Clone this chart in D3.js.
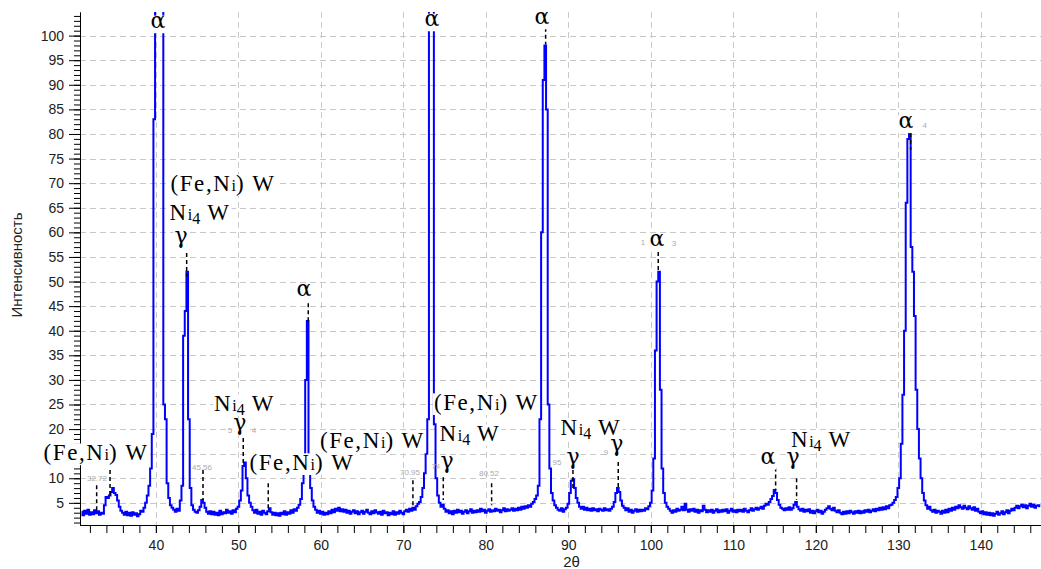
<!DOCTYPE html>
<html>
<head>
<meta charset="utf-8">
<script src="https://cdn.jsdelivr.net/npm/d3@7"></script>
<style>
  body { margin: 0; background: #fff; }
  svg { display: block; }
</style>
</head>
<body>
<svg id="chart" width="1041" height="569"></svg>
<script>
// diffractogram, 2theta from 31.0 in 0.2 deg steps
var thetaStart = 31.0, thetaStep = 0.2;
var intensity = [
  3.2,2.5,3.4,2.8,3.6,2.6,3.1,2.7,3.5,2.9,      // 31
  3.3,2.6,3.0,2.8,4.5,6.2,6.0,6.5,7.2,8.0,      // 33
  7.0,6.6,5.5,4.2,3.4,3.0,2.6,3.2,2.5,3.0,      // 35
  2.4,3.1,2.6,2.9,2.3,2.7,3.4,3.2,4.0,5.0,      // 37
  6.5,8.5,12,19,83,120,120,120,120,120,         // 39
  25,22,9,6,4.5,4.0,3.6,3.2,3.8,3.4,            // 41
  5.5,8.5,39,44,52,22,8,4.5,3.6,3.2,            // 43
  3.0,3.5,4.2,5.6,5.0,4.0,3.2,2.8,3.3,2.7,      // 45
  3.2,2.6,3.0,2.5,3.4,2.7,3.1,2.9,3.6,3.0,      // 47
  3.3,2.8,3.5,3.1,3.8,4.2,5.5,7.5,12.5,13.2,    // 49
  10,6.5,5.0,4.2,3.5,3.0,3.6,2.8,3.2,2.6,       // 51
  3.4,3.0,2.7,3.3,3.9,3.1,2.6,3.0,2.5,2.9,      // 53
  2.4,3.0,2.7,3.3,2.6,3.1,2.8,3.5,3.0,3.7,      // 55
  3.4,4.0,4.6,5.8,9,13,30,42,14,8,              // 57
  5.5,4.2,3.6,3.0,3.4,2.8,3.2,2.6,3.0,2.7,      // 59
  3.3,2.9,3.6,3.1,3.8,3.4,4.0,3.3,3.7,3.2,      // 61
  3.6,3.0,3.4,2.8,3.2,3.5,2.9,3.3,2.7,3.1,      // 63
  3.4,2.8,3.2,3.6,3.0,2.7,3.3,2.9,3.5,3.1,      // 65
  2.8,3.2,2.6,3.4,2.9,3.1,2.5,3.0,2.7,3.3,      // 67
  2.6,3.1,2.8,3.4,3.0,2.7,3.3,3.6,3.2,3.8,      // 69
  3.4,4.0,3.6,4.3,4.8,5.2,6.2,8,11,15,          // 71
  22,120,120,120,21,10,6.5,5.0,4.2,4.6,         // 73
  3.8,3.2,3.5,2.9,3.3,2.7,3.4,3.0,3.6,3.1,      // 75
  3.4,2.8,3.2,3.5,2.9,3.3,3.7,3.0,3.4,3.1,      // 77
  3.5,3.2,3.8,3.3,3.6,3.0,3.4,3.7,3.2,3.5,      // 79
  3.3,3.8,3.4,3.6,3.1,3.5,3.9,3.3,3.7,3.4,      // 81
  3.6,3.9,3.4,3.8,3.5,4.0,3.6,4.2,3.8,4.3,      // 83
  4.0,4.5,4.2,4.8,5.2,5.8,6.5,8.5,22,60,        // 85
  91,98,85,25,12,7,5.5,4.5,4.0,3.6,             // 87
  3.4,3.9,3.2,3.7,4.0,4.8,7.0,9.5,9.8,8.0,      // 89
  6.0,5.0,4.2,3.8,4.2,3.6,4.0,3.5,3.8,3.4,      // 91
  3.9,3.5,3.7,3.3,3.8,3.6,3.4,3.9,3.5,3.7,      // 93
  3.4,3.8,4.2,5.2,7.0,8.0,7.2,5.5,4.4,4.0,      // 95
  3.5,3.9,3.2,3.6,3.0,3.4,3.7,3.2,3.6,3.3,      // 97
  3.6,3.4,3.9,3.7,4.3,5.0,7.5,14,36,50,         // 99
  52,28,12,7,5.0,4.2,3.8,3.4,3.0,3.5,           // 101
  3.2,3.8,3.4,3.6,4.2,3.5,4.8,3.6,3.2,3.7,      // 103
  3.4,3.8,3.2,3.6,3.0,3.5,3.3,4.4,3.6,3.1,      // 105
  3.5,3.2,3.6,3.0,3.4,3.7,3.1,3.5,3.2,3.6,      // 107
  3.3,3.7,3.0,3.4,3.8,3.2,3.5,3.1,3.6,3.3,      // 109
  3.6,3.2,3.8,3.4,3.1,3.5,3.9,3.4,3.7,4.0,      // 111
  3.6,3.9,4.2,3.8,4.4,4.8,4.6,5.2,5.8,6.4,      // 113
  7.6,7.0,5.6,4.6,4.0,3.8,3.5,3.9,3.6,4.1,      // 115
  3.6,3.9,4.6,5.2,4.2,3.7,3.4,3.8,3.2,3.6,      // 117
  3.3,3.7,3.0,3.4,2.9,3.3,3.6,3.1,3.4,2.8,      // 119
  3.2,3.6,3.9,4.3,3.8,3.5,4.0,3.4,3.1,3.5,      // 121
  3.0,2.7,3.2,2.8,3.3,2.9,3.4,3.1,2.8,3.3,      // 123
  3.0,3.4,2.9,3.3,3.0,3.5,3.2,3.6,3.1,3.4,      // 125
  3.7,3.3,3.8,3.5,4.0,3.6,4.1,3.7,4.3,3.9,      // 127
  4.5,4.6,5.0,5.6,6.2,8,10,17,27,40,            // 129
  66,79,80,57,52,43,28,20,14,10,                // 131
  7.0,5.5,4.5,3.8,4.2,3.5,3.2,3.6,3.0,3.4,      // 133
  3.2,2.8,3.4,3.0,3.6,3.1,3.8,3.4,4.0,3.6,      // 135
  4.2,3.9,4.5,4.1,3.8,4.4,4.0,3.7,4.3,3.9,      // 137
  3.6,4.1,3.4,3.8,3.2,2.9,3.3,2.7,3.1,2.6,      // 139
  3.0,2.5,2.9,2.4,2.8,3.2,2.6,2.9,3.3,2.7,      // 141
  3.1,3.5,2.9,3.4,3.8,3.5,4.0,4.4,3.9,4.3,      // 143
  4.6,4.1,4.5,3.9,4.4,4.8,4.2,4.6,4.0,4.4,      // 145
  4.5,4.3                                       // 147
];

var xTicks = [40, 50, 60, 70, 80, 90, 100, 110, 120, 130, 140];
var yTicks = [5, 10, 15, 20, 25, 30, 35, 40, 45, 50, 55, 60, 65, 70, 75, 80, 85, 90, 95, 100];

// peak markers: [2theta, top, bottom]
var markers = [
  [32.82, 8.6, 3.5], [34.44, 11.7, 6.2], [43.73, 55.8, 51], [45.71, 11.7, 5.6],
  [50.59, 18.2, 13.1], [53.62, 9, 3.9], [58.47, 45.6, 41.8], [71.16, 9.6, 4.5],
  [74.84, 10.2, 5.6], [80.7, 9, 4.5], [87.25, 101.6, 98.2], [90.56, 11.7, 7.6],
  [96.05, 13.3, 8.2], [100.9, 56, 52.3], [115.13, 12.2, 7.6], [117.67, 10, 5.6],
  [131.49, 80.2, 76.8]
];

// phase labels: [2theta, intensity at baseline, text]
var phaseLabels = [
  [32.74, 13.7, '(Fe,Ni) W'],
  [48.13, 68.4, '(Fe,Ni) W'], [45.35, 62.5, 'Ni4 W'],
  [50.74, 23.7, 'Ni4 W'],
  [57.71, 11.7, '(Fe,Ni) W'],
  [66.25, 16.1, '(Fe,Ni) W'],
  [80.07, 23.9, '(Fe,Ni) W'], [78.07, 17.6, 'Ni4 W'],
  [92.74, 18.8, 'Ni4 W'],
  [120.68, 16.3, 'Ni4 W']
];
var greekLabels = [
  [40.25, 101.6, 'α'], [43.04, 57.9, 'γ'], [57.95, 47.1, 'α'], [50.19, 19.8, 'γ'],
  [73.47, 102, 'α'], [75.29, 12.1, 'γ'], [86.8, 102.4, 'α'], [90.56, 13.0, 'γ'],
  [95.89, 15.5, 'γ'], [100.74, 57.3, 'α'], [114.2, 12.9, 'α'], [117.23, 13.0, 'γ'],
  [130.92, 81.3, 'α']
];
// small grey position numbers
var posLabels = [
  [32.86, 9.4, '32.72'], [45.59, 11.7, '45.56'], [48.98, 19.2, '5'], [51.89, 19.2, '4'],
  [70.8, 10.6, '70.95'], [73.95, 11.9, '74'], [80.38, 10.4, '80.52'], [88.62, 12.7, '95'],
  [94.56, 14.7, '9'], [99.04, 57.5, '1'], [102.8, 57.3, '3'], [133.2, 81.3, '4']
];

var svg = d3.select('#chart'),
    margin = {top: 12, right: 0, bottom: 44, left: 80},
    width = +svg.attr('width') - margin.left - margin.right,
    height = +svg.attr('height') - margin.top - margin.bottom;

var x = d3.scaleLinear().domain([30.8, 147.3]).range([0, width]),
    y = d3.scaleLinear().domain([0.5, 104.8]).range([height, 0]);

svg.append('defs').append('clipPath').attr('id', 'clip')
  .append('rect').attr('width', width).attr('height', height);

var g = svg.append('g').attr('transform', 'translate(' + margin.left + ',' + margin.top + ')');

// grid
var grid = g.append('g').attr('stroke', '#c8c8c8').attr('stroke-width', 1).attr('stroke-dasharray', '6,4');
grid.selectAll('.gx').data(xTicks).join('line')
  .attr('x1', function(d) { return Math.round(x(d)) + 0.5; })
  .attr('x2', function(d) { return Math.round(x(d)) + 0.5; })
  .attr('y1', 0).attr('y2', height);
grid.selectAll('.gy').data(yTicks).join('line')
  .attr('y1', function(d) { return Math.round(y(d)) + 0.5; })
  .attr('y2', function(d) { return Math.round(y(d)) + 0.5; })
  .attr('x1', 0).attr('x2', width);

// spectrum
var line = d3.line()
  .curve(d3.curveStep)
  .x(function(d, i) { return x(thetaStart + i * thetaStep); })
  .y(function(d) { return y(d); });

g.append('path')
  .datum(intensity)
  .attr('clip-path', 'url(#clip)')
  .attr('fill', 'none')
  .attr('stroke', '#0000ff')
  .attr('stroke-width', 2)
  .attr('d', line);

// axes
var tickFont = function(sel) {
  sel.selectAll('text').attr('font-family', '"Liberation Sans", Arial, sans-serif')
    .attr('font-size', 14).attr('fill', '#222');
  sel.select('.domain').attr('stroke', '#000');
};

g.append('g').attr('transform', 'translate(0,' + height + ')')
  .call(d3.axisBottom(x).tickValues(d3.range(32, 147, 2)).tickSize(8).tickSizeOuter(0).tickFormat(''));
g.append('g').attr('transform', 'translate(0,' + height + ')')
  .call(d3.axisBottom(x).tickValues(xTicks).tickSize(8).tickSizeOuter(0).tickPadding(7))
  .call(tickFont);

g.append('g')
  .call(d3.axisLeft(y).tickValues(d3.range(1, 105)).tickSize(6).tickSizeOuter(0).tickFormat(''));
g.append('g')
  .call(d3.axisLeft(y).tickValues(yTicks).tickSize(11).tickSizeOuter(0).tickPadding(5))
  .call(tickFont);

svg.append('text')
  .attr('transform', 'translate(22,' + 265 + ') rotate(-90)')
  .attr('text-anchor', 'middle')
  .attr('font-family', '"Liberation Sans", Arial, sans-serif')
  .attr('font-size', 15).attr('fill', '#222')
  .text('Интенсивность');

svg.append('text')
  .attr('x', margin.left + x(90.4)).attr('y', 567)
  .attr('text-anchor', 'middle')
  .attr('font-family', '"Liberation Sans", Arial, sans-serif')
  .attr('font-size', 15).attr('fill', '#222')
  .text('2θ');

// grey position numbers sit under the label boxes
var lab = g.append('g');
lab.selectAll('.pos').data(posLabels).join('text')
  .attr('x', function(d) { return x(d[0]); })
  .attr('y', function(d) { return y(d[1]); })
  .attr('text-anchor', 'middle')
  .attr('font-family', '"Liberation Sans", Arial, sans-serif')
  .attr('font-size', 8).attr('fill', '#aaa')
  .text(function(d) { return d[2]; });

// markers
g.append('g').selectAll('line').data(markers).join('line')
  .attr('x1', function(d) { return x(d[0]); })
  .attr('x2', function(d) { return x(d[0]); })
  .attr('y1', function(d) { return y(d[1]); })
  .attr('y2', function(d) { return y(d[2]); })
  .attr('stroke', '#000').attr('stroke-width', 1.5).attr('stroke-dasharray', '4,3');

var lab2 = g.append('g');

function addLabel(d, font, size, top, depth, spacing) {
  var grp = lab2.append('g');
  var t = grp.append('text')
    .attr('x', x(d[0])).attr('y', y(d[1]))
    .attr('text-anchor', 'middle')
    .attr('font-family', font).attr('font-size', size)
    .attr('letter-spacing', spacing)
    .attr('fill', '#000');
  writeFormula(t, d[2]);
  var bb = t.node().getBBox();
  grp.insert('rect', 'text')
    .attr('x', bb.x - 1).attr('width', bb.width + 2)
    .attr('y', y(d[1]) - top * size).attr('height', (top + depth) * size)
    .attr('fill', '#fff');
}

// "Ni" gets a small i, digits go down as subscripts
function writeFormula(t, str) {
  var chunks = [];
  for (var k = 0; k < str.length; k++) {
    var c = str[k];
    var kind = (c === 'i' && str[k - 1] === 'N') ? 'small' : (/\d/.test(c) ? 'sub' : 'normal');
    if (chunks.length && chunks[chunks.length - 1].kind === kind) chunks[chunks.length - 1].s += c;
    else chunks.push({kind: kind, s: c});
  }
  var shift = 0;
  chunks.forEach(function(ch) {
    var ts = t.append('tspan').text(ch.s);
    var want = ch.kind === 'sub' ? 4 : 0;
    if (want !== shift) { ts.attr('dy', want - shift); shift = want; }
    if (ch.kind !== 'normal') ts.attr('font-size', '70%').attr('letter-spacing', 0);
  });
}

phaseLabels.forEach(function(d) {
  addLabel(d, '"Liberation Serif", "Times New Roman", serif', 23, 0.72, 0.22, 1.6);
});
greekLabels.forEach(function(d) {
  addLabel(d, '"DejaVu Serif", serif', 22, 0.55, 0.25, 0);
});
</script>
</body>
</html>
